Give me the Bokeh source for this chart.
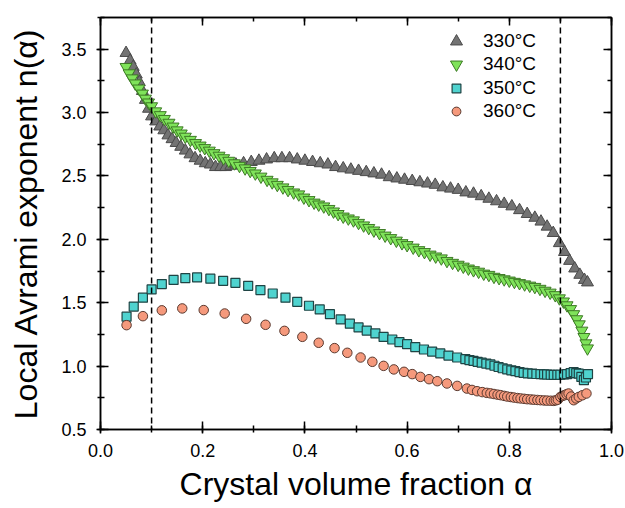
from bokeh.plotting import figure
from bokeh.models import (Span, Legend, LegendItem, LinearAxis, SingleIntervalTicker, Range1d,
                          PrintfTickFormatter, CustomJSTickFormatter)
from bokeh.embed import file_html
from bokeh.resources import INLINE

# ---- data ----
a330 = [0.050, 0.058, 0.064, 0.070, 0.076, 0.082, 0.088, 0.094, 0.100, 0.108, 0.116, 0.124, 0.132, 0.140,
        0.148, 0.157, 0.166, 0.175, 0.185, 0.195, 0.205, 0.215, 0.225, 0.235, 0.245, 0.255, 0.265, 0.280,
        0.295, 0.310, 0.325, 0.340, 0.355, 0.370, 0.385, 0.400, 0.415, 0.430, 0.445, 0.460, 0.475, 0.490,
        0.505, 0.520, 0.535, 0.550, 0.565, 0.580, 0.595, 0.610, 0.625, 0.640, 0.655, 0.670, 0.685, 0.700,
        0.715, 0.730, 0.745, 0.760, 0.775, 0.790, 0.805, 0.820, 0.835, 0.850, 0.862, 0.874, 0.886, 0.898,
        0.908, 0.918, 0.928, 0.938, 0.947, 0.953]
n330 = [3.47, 3.41, 3.36, 3.30, 3.24, 3.17, 3.10, 3.03, 2.97, 2.93, 2.89, 2.86, 2.82, 2.79,
        2.76, 2.73, 2.70, 2.67, 2.64, 2.62, 2.60, 2.59, 2.57, 2.57, 2.57, 2.58, 2.59, 2.60,
        2.61, 2.62, 2.63, 2.64, 2.64, 2.64, 2.63, 2.62, 2.61, 2.60, 2.59, 2.57, 2.56, 2.55,
        2.54, 2.53, 2.52, 2.51, 2.49, 2.48, 2.47, 2.46, 2.45, 2.44, 2.43, 2.41, 2.40, 2.39,
        2.37, 2.36, 2.34, 2.32, 2.30, 2.28, 2.26, 2.23, 2.20, 2.17, 2.14, 2.10, 2.05, 1.97,
        1.90, 1.83, 1.77, 1.72, 1.68, 1.66]

a340 = [0.050, 0.056, 0.062, 0.068, 0.075, 0.082, 0.088, 0.094, 0.100, 0.108, 0.117, 0.125, 0.134, 0.142,
        0.150, 0.158, 0.166, 0.176, 0.186, 0.195, 0.204, 0.213, 0.222, 0.232, 0.241, 0.251, 0.262, 0.272,
        0.283, 0.293, 0.303, 0.314, 0.326, 0.336, 0.346, 0.357, 0.367, 0.378, 0.388, 0.398, 0.408, 0.418,
        0.427, 0.437, 0.447, 0.456, 0.465, 0.475, 0.485, 0.495, 0.505, 0.515, 0.525, 0.535, 0.546, 0.557,
        0.568, 0.579, 0.590, 0.600, 0.612, 0.623, 0.634, 0.645, 0.656, 0.667, 0.678, 0.689, 0.700, 0.710,
        0.720, 0.730, 0.740, 0.750, 0.760, 0.770, 0.780, 0.790, 0.800, 0.810, 0.820, 0.830, 0.840, 0.850,
        0.860, 0.870, 0.880, 0.890, 0.898, 0.906, 0.913, 0.920, 0.926, 0.932, 0.937, 0.942, 0.946, 0.950,
        0.953]
n340 = [3.36, 3.31, 3.27, 3.23, 3.19, 3.15, 3.11, 3.08, 3.05, 3.01, 2.98, 2.95, 2.92, 2.89,
        2.86, 2.835, 2.81, 2.785, 2.76, 2.74, 2.72, 2.70, 2.68, 2.66, 2.64, 2.62, 2.60, 2.58,
        2.56, 2.54, 2.52, 2.495, 2.47, 2.45, 2.43, 2.41, 2.39, 2.37, 2.355, 2.33, 2.31, 2.29,
        2.275, 2.26, 2.24, 2.22, 2.20, 2.18, 2.165, 2.15, 2.13, 2.11, 2.09, 2.07, 2.05, 2.03,
        2.01, 1.99, 1.97, 1.955, 1.935, 1.915, 1.90, 1.88, 1.865, 1.85, 1.83, 1.815, 1.80, 1.785,
        1.77, 1.757, 1.745, 1.73, 1.72, 1.705, 1.695, 1.685, 1.675, 1.665, 1.655, 1.645, 1.635, 1.625,
        1.61, 1.595, 1.58, 1.56, 1.535, 1.51, 1.48, 1.45, 1.41, 1.37, 1.33, 1.28, 1.23, 1.18,
        1.14]

a350 = [0.051, 0.065, 0.083, 0.100, 0.120, 0.143, 0.166, 0.189, 0.215, 0.240, 0.264, 0.289, 0.313, 0.337,
        0.362, 0.385, 0.408, 0.429, 0.449, 0.470, 0.488, 0.505, 0.521, 0.538, 0.554, 0.571, 0.585, 0.600,
        0.616, 0.633, 0.649, 0.665, 0.681, 0.698, 0.714, 0.722, 0.730, 0.738, 0.746, 0.755, 0.763, 0.771,
        0.779, 0.787, 0.796, 0.804, 0.812, 0.820, 0.828, 0.836, 0.845, 0.853, 0.861, 0.868, 0.874, 0.881,
        0.887, 0.894, 0.900, 0.907, 0.913, 0.920, 0.926, 0.931, 0.936, 0.941, 0.946, 0.950, 0.954]
n350 = [1.39, 1.47, 1.54, 1.605, 1.647, 1.68, 1.694, 1.70, 1.69, 1.673, 1.657, 1.633, 1.60, 1.573,
        1.54, 1.507, 1.476, 1.447, 1.41, 1.368, 1.335, 1.305, 1.28, 1.258, 1.23, 1.21, 1.19, 1.173,
        1.15, 1.131, 1.115, 1.10, 1.083, 1.068, 1.055, 1.048, 1.041, 1.034, 1.027, 1.020, 1.013, 1.003,
        0.993, 0.983, 0.974, 0.967, 0.96, 0.953, 0.947, 0.943, 0.94, 0.938, 0.937, 0.935, 0.934, 0.932,
        0.931, 0.931, 0.932, 0.934, 0.937, 0.945, 0.952, 0.945, 0.94, 0.915, 0.889, 0.91, 0.937]

a360 = [0.051, 0.083, 0.120, 0.160, 0.202, 0.243, 0.285, 0.323, 0.360, 0.395, 0.427, 0.458, 0.483, 0.509,
        0.532, 0.554, 0.574, 0.594, 0.610, 0.626, 0.643, 0.659, 0.678, 0.698, 0.717, 0.727, 0.737, 0.747,
        0.756, 0.763, 0.770, 0.777, 0.783, 0.790, 0.796, 0.803, 0.809, 0.816, 0.822, 0.829, 0.835, 0.842,
        0.848, 0.855, 0.861, 0.868, 0.874, 0.881, 0.887, 0.891, 0.895, 0.900, 0.904, 0.908, 0.912, 0.916,
        0.921, 0.926, 0.931, 0.936, 0.943, 0.951]
n360 = [1.323, 1.394, 1.44, 1.455, 1.442, 1.415, 1.373, 1.326, 1.278, 1.231, 1.184, 1.142, 1.105, 1.068,
        1.034, 1.002, 0.974, 0.955, 0.937, 0.915, 0.897, 0.881, 0.863, 0.844, 0.823, 0.812, 0.802, 0.795,
        0.789, 0.785, 0.78, 0.775, 0.771, 0.765, 0.76, 0.756, 0.752, 0.748, 0.745, 0.742, 0.739, 0.737,
        0.735, 0.733, 0.731, 0.729, 0.728, 0.727, 0.726, 0.73, 0.735, 0.757, 0.765, 0.77, 0.778, 0.784,
        0.76, 0.731, 0.745, 0.757, 0.77, 0.784]

labels = ["330\u00b0C", "340\u00b0C", "350\u00b0C", "360\u00b0C"]
x_ticks = [0.0, 0.2, 0.4, 0.6, 0.8, 1.0]
y_ticks = [0.5, 1.0, 1.5, 2.0, 2.5, 3.0, 3.5]
dash_positions = [0.1, 0.9]

FONT = "Liberation Sans"

p = figure(width=625, height=508, x_range=Range1d(0, 1), y_range=Range1d(0.5, 3.75),
           output_backend="svg", toolbar_location=None,
           min_border_left=100, min_border_right=14, min_border_top=17, min_border_bottom=79,
           x_axis_label="Crystal volume fraction \u03b1", y_axis_label="Local Avrami exponent n(\u03b1)")
p.grid.visible = False
p.background_fill_color = "white"
p.border_fill_color = "white"
p.outline_line_color = "black"
p.outline_line_width = 1.5

for ax, iv in ((p.xaxis[0], 0.2), (p.yaxis[0], 0.5)):
    ax.ticker = SingleIntervalTicker(interval=iv, num_minor_ticks=2)
    ax.formatter = PrintfTickFormatter(format="%.1f")
    ax.axis_line_width = 1.5
    ax.major_tick_line_width = 1.5
    ax.minor_tick_line_width = 1.5
    ax.major_tick_in = 8
    ax.major_tick_out = 4
    ax.minor_tick_in = 4
    ax.minor_tick_out = 3
    ax.major_label_text_font = FONT
    ax.major_label_text_font_size = "18px"
    ax.major_label_text_color = "black"
    ax.axis_label_text_font = FONT
    ax.axis_label_text_font_size = "32px"
    ax.axis_label_text_font_style = "normal"
    ax.axis_label_text_color = "black"

p.xaxis.major_label_standoff = 10
p.xaxis.axis_label_standoff = 6
p.yaxis.major_label_standoff = 10
p.yaxis.axis_label_standoff = 14

blank = CustomJSTickFormatter(code="return ''")
for loc, iv in (("above", 0.2), ("right", 0.5)):
    ax = LinearAxis(ticker=SingleIntervalTicker(interval=iv, num_minor_ticks=2),
                    formatter=blank, major_label_standoff=0,
                    major_tick_in=8, major_tick_out=0, minor_tick_in=4, minor_tick_out=0,
                    axis_line_width=1.5, major_tick_line_width=1.5, minor_tick_line_width=1.5)
    p.add_layout(ax, loc)

for xv in dash_positions:
    p.add_layout(Span(location=xv, dimension="height", line_color="black",
                      line_width=1.5, line_dash="6 4"))

r330 = p.scatter(a330, n330, marker="triangle", size=12, fill_color="#737373",
                 line_color="#4a4a4a", line_width=1)
r340 = p.scatter(a340, n340, marker="inverted_triangle", size=12, fill_color="#7fe35a",
                 line_color="#3d7a25", line_width=1)
r350 = p.scatter(a350, n350, marker="square", size=9, fill_color="#4fd3cf",
                 line_color="#1f4444", line_width=1.2)
r360 = p.scatter(a360, n360, marker="circle", size=9.5, fill_color="#f5997c",
                 line_color="#5a3a30", line_width=1)

common = dict(padding=0, margin=0, spacing=0, label_text_font=FONT, label_text_font_size="19px",
              label_text_color="black", background_fill_alpha=0, border_line_alpha=0,
              glyph_height=30, label_height=30)
# one legend per entry so each row sits where the reference puts it
legend_specs = [(labels[0], r330, (341, 373), 30, 12),
                (labels[1], r340, (341, 350), 30, 12),
                (labels[2], r350, (345, 326), 22, 16),
                (labels[3], r360, (345, 303), 22, 16)]
for lab, rend, loc, gw, stand in legend_specs:
    p.add_layout(Legend(items=[LegendItem(label=lab, renderers=[rend])], location=loc,
                        glyph_width=gw, label_standoff=stand, **common))

open("out.html", "w").write(file_html(p, INLINE))
